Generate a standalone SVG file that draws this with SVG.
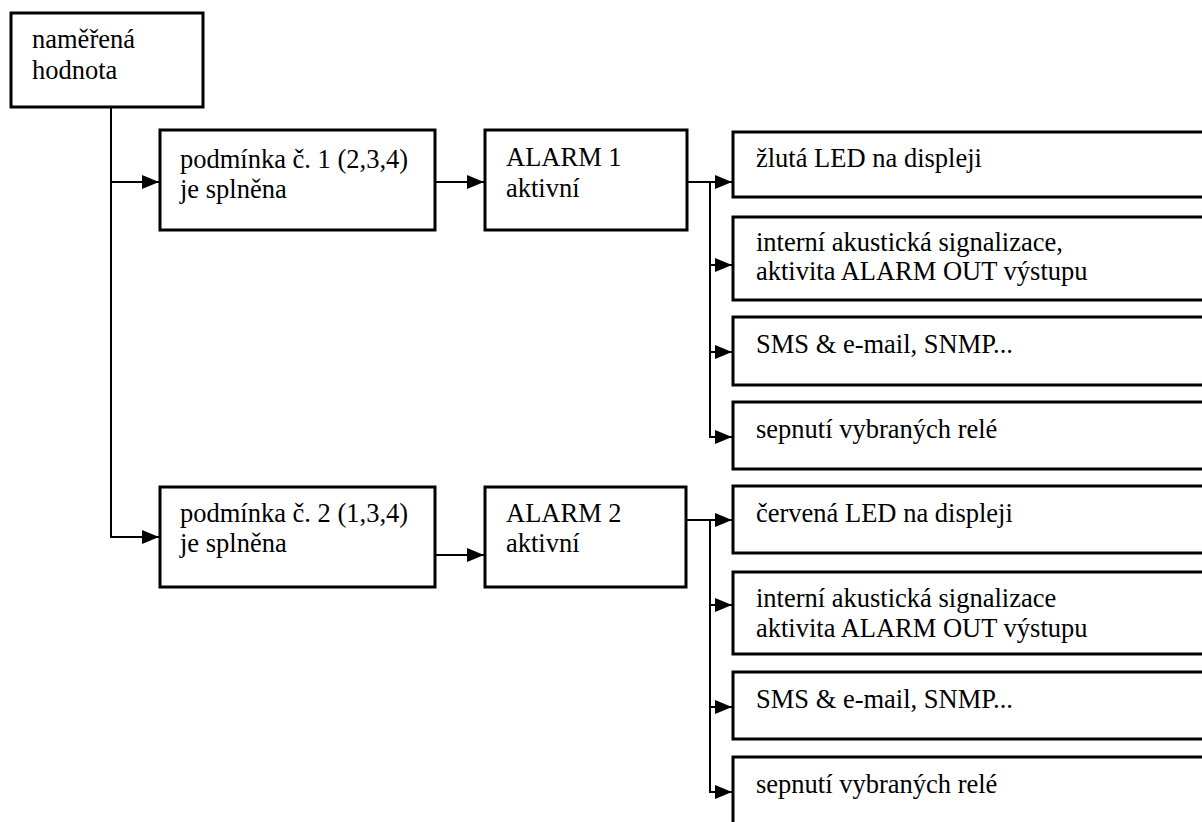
<svg xmlns="http://www.w3.org/2000/svg" width="1202" height="822" viewBox="0 0 1202 822">
<style>
.box{fill:#fff;stroke:#000;stroke-width:3}
.t{font-family:'Liberation Serif','Times New Roman','DejaVu Serif',serif;font-size:26.5px;fill:#000}
.c{fill:none;stroke:#000;stroke-width:2}
</style>
<defs>
<marker id="ah" markerUnits="userSpaceOnUse" viewBox="0 0 17 14" markerWidth="17" markerHeight="14" refX="17" refY="7" orient="auto">
<path d="M0,0 L17,7 L0,14 Z" fill="#000"/>
</marker>
</defs>
<rect width="1202" height="822" fill="#fff"/>
<g id="connectors">
<path class="c" d="M111,107 V537 H159" marker-end="url(#ah)"/>
<path class="c" d="M111,182 H159" marker-end="url(#ah)"/>
<path class="c" d="M435,182 H484" marker-end="url(#ah)"/>
<path class="c" d="M435,555 H484" marker-end="url(#ah)"/>
<path class="c" d="M687,182 H732" marker-end="url(#ah)"/>
<path class="c" d="M710,182 V437 H732" marker-end="url(#ah)"/>
<path class="c" d="M710,265 H732" marker-end="url(#ah)"/>
<path class="c" d="M710,352 H732" marker-end="url(#ah)"/>
<path class="c" d="M686,520 H732" marker-end="url(#ah)"/>
<path class="c" d="M710,520 V792 H732" marker-end="url(#ah)"/>
<path class="c" d="M710,605 H732" marker-end="url(#ah)"/>
<path class="c" d="M710,707 H732" marker-end="url(#ah)"/>
</g>
<g id="n_hodnota">
<rect class="box" x="11" y="13" width="192" height="94"/>
<text class="t" x="32" y="48">naměřená</text>
<text class="t" x="32" y="79">hodnota</text>
</g>
<g id="n_podminka1">
<rect class="box" x="160" y="130" width="275" height="100"/>
<text class="t" x="180" y="168">podmínka č. 1 (2,3,4)</text>
<text class="t" x="180" y="198">je splněna</text>
</g>
<g id="n_alarm1">
<rect class="box" x="485" y="130" width="202" height="100"/>
<text class="t" x="506" y="166">ALARM 1</text>
<text class="t" x="506" y="197">aktivní</text>
</g>
<g id="n_a1_led">
<rect class="box" x="733" y="132" width="500" height="65"/>
<text class="t" x="756" y="167">žlutá LED na displeji</text>
</g>
<g id="n_a1_akust">
<rect class="box" x="733" y="217" width="500" height="83"/>
<text class="t" x="756" y="251">interní akustická signalizace,</text>
<text class="t" x="756" y="280">aktivita ALARM OUT výstupu</text>
</g>
<g id="n_a1_sms">
<rect class="box" x="733" y="317" width="500" height="68"/>
<text class="t" x="756" y="353">SMS &amp; e-mail, SNMP...</text>
</g>
<g id="n_a1_rele">
<rect class="box" x="733" y="402" width="500" height="67"/>
<text class="t" x="756" y="438">sepnutí vybraných relé</text>
</g>
<g id="n_podminka2">
<rect class="box" x="160" y="487" width="275" height="100"/>
<text class="t" x="180" y="522">podmínka č. 2 (1,3,4)</text>
<text class="t" x="180" y="552">je splněna</text>
</g>
<g id="n_alarm2">
<rect class="box" x="485" y="487" width="201" height="100"/>
<text class="t" x="506" y="522">ALARM 2</text>
<text class="t" x="506" y="552">aktivní</text>
</g>
<g id="n_a2_led">
<rect class="box" x="733" y="486" width="500" height="67"/>
<text class="t" x="756" y="522">červená LED na displeji</text>
</g>
<g id="n_a2_akust">
<rect class="box" x="733" y="572" width="500" height="82"/>
<text class="t" x="756" y="607">interní akustická signalizace</text>
<text class="t" x="756" y="637">aktivita ALARM OUT výstupu</text>
</g>
<g id="n_a2_sms">
<rect class="box" x="733" y="672" width="500" height="67"/>
<text class="t" x="756" y="708">SMS &amp; e-mail, SNMP...</text>
</g>
<g id="n_a2_rele">
<rect class="box" x="733" y="757" width="500" height="80"/>
<text class="t" x="756" y="793">sepnutí vybraných relé</text>
</g>
</svg>
